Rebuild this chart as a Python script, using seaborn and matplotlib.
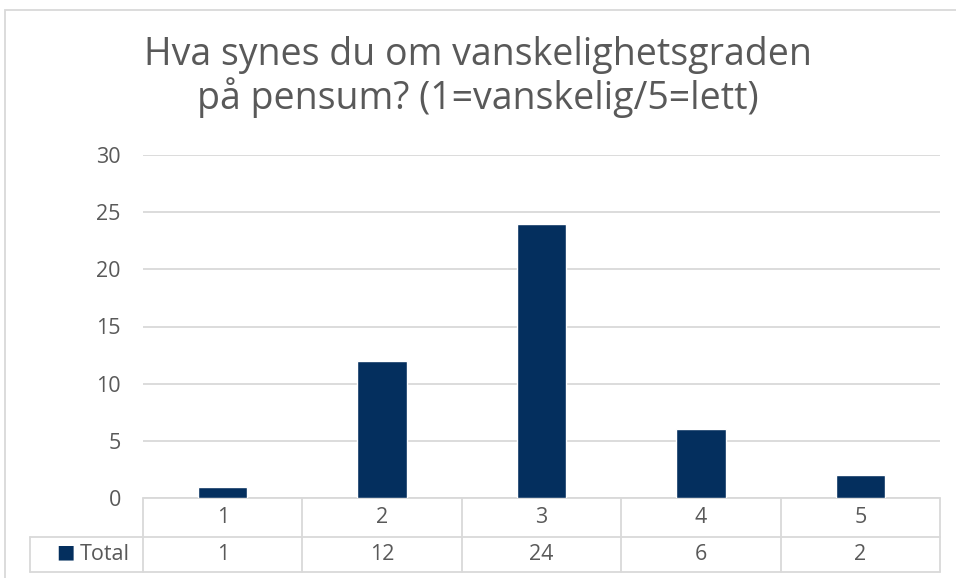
import matplotlib
matplotlib.use("Agg")
import matplotlib.pyplot as plt
import matplotlib.transforms as mtransforms
from matplotlib.patches import Rectangle
import pandas as pd
import seaborn as sns

# chart data
categories = ["1", "2", "3", "4", "5"]
totals = [1, 12, 24, 6, 2]
series_name = "Total"
title = "Hva synes du om vanskelighetsgraden\npå pensum? (1=vanskelig/5=lett)"
y_ticks = [0, 5, 10, 15, 20, 25, 30]

bar_color = "#042f5e"
text_color = "#595959"
grid_color = "#d9d9d9"

sns.set_style("white")
plt.rcParams["font.family"] = ["Open Sans", "DejaVu Sans"]

df = pd.DataFrame({"score": categories, "count": totals})

fig = plt.figure(figsize=(9.56, 5.78), dpi=100)
W, H = 956, 578
ax = fig.add_axes([143 / W, 1 - 498 / H, (940 - 143) / W, (498 - 155) / H])

sns.barplot(data=df, x="score", y="count", color=bar_color, width=0.31,
            saturation=1, ax=ax, zorder=3)

ax.set_ylim(0, 30)
ax.set_xlim(-0.5, len(categories) - 0.5)
ax.set_yticks(y_ticks)
ax.set_yticklabels([str(t) for t in y_ticks], fontsize=15.5, color=text_color)
ax.tick_params(axis="y", length=0, pad=16)
ax.set_xticks([])
ax.set_xlabel("")
ax.set_ylabel("")
for s in ax.spines.values():
    s.set_visible(False)
ax.yaxis.grid(True, color=grid_color, linewidth=1.3, zorder=0)
ax.set_axisbelow(True)

# data table below the axis
trans = mtransforms.blended_transform_factory(ax.transData, ax.transAxes)
ax_h = 498 - 155
row1 = -(537 - 498) / ax_h
row2 = -(572 - 498) / ax_h
left_x = -0.5 - (143 - 30) / ((940 - 143) / len(categories))
n = len(categories)
lk = dict(color=grid_color, linewidth=1.3, transform=trans, clip_on=False)
ax.plot([-0.5, n - 0.5], [0, 0], **lk)
ax.plot([left_x, n - 0.5], [row1, row1], **lk)
ax.plot([left_x, n - 0.5], [row2, row2], **lk)
ax.plot([left_x, left_x], [row1, row2], **lk)
for i in range(n + 1):
    ax.plot([i - 0.5, i - 0.5], [0, row2], **lk)
for i, (c, v) in enumerate(zip(categories, totals)):
    ax.text(i, row1 / 2, c, transform=trans, ha="center", va="center",
            fontsize=15.5, color=text_color)
    ax.text(i, (row1 + row2) / 2, str(v), transform=trans, ha="center",
            va="center", fontsize=15.5, color=text_color)
ax.text(left_x + 0.22, (row1 + row2) / 2 + 0.006, "\u25A0", transform=trans,
        ha="center", va="center", fontsize=14, color=bar_color,
        family="DejaVu Sans")
ax.text(left_x + 0.31, (row1 + row2) / 2, series_name, transform=trans,
        ha="left", va="center", fontsize=15.5, color=text_color)

fig.text(0.5, 1 - 77 / H, title, ha="center", va="center", fontsize=27,
         color=text_color, linespacing=1.12)

# chart border
fig.patches.append(Rectangle((5 / W, -0.1), 1.1, 1 - 10 / H + 0.1,
                             transform=fig.transFigure, fill=False,
                             edgecolor=grid_color, linewidth=1.3))

fig.savefig("out.png", dpi=100)
